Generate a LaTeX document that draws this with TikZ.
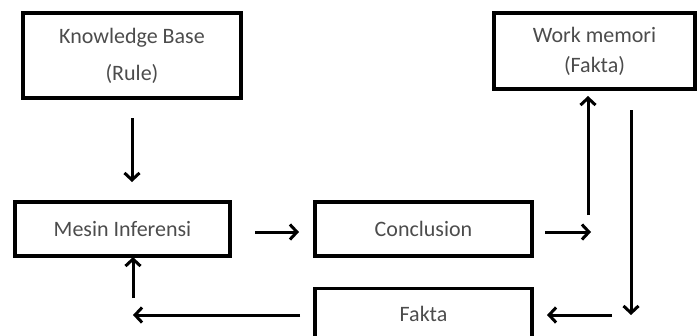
\documentclass[tikz,border=0pt]{standalone}
\usepackage{fontspec}
\setmainfont{Carlito}
\usetikzlibrary{arrows.meta}
\begin{document}
\begin{tikzpicture}[x=1pt,y=-1pt,
  box/.style={draw=black,line width=3.4pt,inner sep=0pt,text=black!70,
    font=\fontsize{22}{30}\selectfont,align=center},
  arr/.style={line width=3pt,-{Straight Barb[length=7pt,width=15pt,line width=3pt]}}]
\useasboundingbox (0,0) rectangle (700,335);
\clip (0,0) rectangle (700,335);
% boxes
\node[box,minimum width=218pt,minimum height=85pt,
  font=\fontsize{22}{37}\selectfont] (kb) at (132,55.5) {Knowledge Base\\(Rule)};
\node[box,minimum width=201pt,minimum height=76pt] (wm) at (594.5,51) {Work memori\\(Fakta)};
\node[box,minimum width=215pt,minimum height=54pt] (mi) at (122.5,229) {Mesin Inferensi};
\node[box,minimum width=217pt,minimum height=54pt] (co) at (423.5,229) {Conclusion};
\node[box,minimum width=217pt,minimum height=50pt,anchor=north] (fa) at (423.5,287) {Fakta};
% connector end points
\coordinate (kbout) at (132,118);
\coordinate (miin) at (132,182);
\coordinate (miout) at (255,232);
\coordinate (coin) at (299,232);
\coordinate (coout) at (545,232);
\coordinate (jn) at (591,232);
\coordinate (upfoot) at (588,215);
\coordinate (wmin) at (588,96);
\coordinate (wmout) at (631,110);
\coordinate (dnend) at (631,315);
\coordinate (faright) at (612,315);
\coordinate (fain) at (547,315);
\coordinate (faleft) at (300,315);
\coordinate (back) at (133,315);
\coordinate (backfoot) at (133,298);
\coordinate (mibot) at (133,257);
% connectors
\draw[arr] (kbout) -- (miin);
\draw[arr] (miout) -- (coin);
\draw[arr] (coout) -- (jn);
\draw[arr] (upfoot) -- (wmin);
\draw[arr] (wmout) -- (dnend);
\draw[arr] (faright) -- (fain);
\draw[arr] (faleft) -- (back);
\draw[arr] (backfoot) -- (mibot);
\end{tikzpicture}
\end{document}
